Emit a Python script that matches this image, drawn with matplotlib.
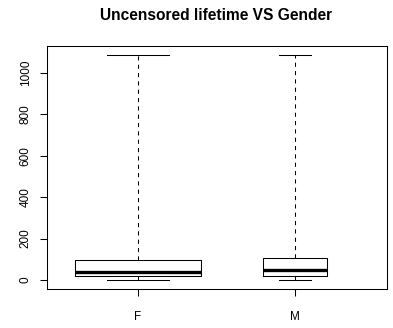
import matplotlib
matplotlib.use("Agg")
import matplotlib.pyplot as plt

plt.rcParams['font.family'] = ['Liberation Sans', 'DejaVu Sans']

# data
groups = ['F', 'M']
whisker_low = [2, 2]
q1 = [18, 18]
median = [39, 46]
q3 = [98, 105]
whisker_high = [1085, 1085]
box_widths = [0.80, 0.41]   # varwidth boxes

stats = []
for i, g in enumerate(groups):
    stats.append({'label': g, 'whislo': whisker_low[i], 'q1': q1[i], 'med': median[i],
                  'q3': q3[i], 'whishi': whisker_high[i]})

fig = plt.figure(figsize=(3.93, 3.28), dpi=100)
ax = fig.add_axes([47/393, 1 - 289/328, 340/393, 243/328])

ax.bxp(stats, positions=[1, 2], widths=box_widths,
       capwidths=[w / 2 for w in box_widths], showfliers=False,
       boxprops=dict(color='black', linewidth=0.75),
       medianprops=dict(color='black', linewidth=2.4, solid_capstyle='butt'),
       whiskerprops=dict(color='black', linewidth=0.75, linestyle=(0, (4, 4))),
       capprops=dict(color='black', linewidth=0.75))

ax.set_xlim(0.42, 2.585)
ax.set_ylim(-43.4, 1128.4)
ax.set_yticks([0, 200, 400, 600, 800, 1000])
ax.set_xticks([1, 2])
ax.set_xticklabels(groups)
for lab in ax.get_yticklabels():
    lab.set_rotation(90)
    lab.set_va('center')
ax.tick_params(axis='both', direction='out', length=5, width=0.75, labelsize=8.5, color='black')
ax.tick_params(axis='y', pad=6)
ax.tick_params(axis='x', pad=11)
for s in ax.spines.values():
    s.set_linewidth(0.75)
    s.set_color('black')

fig.text(216/393, 1 - 15/328, 'Uncensored lifetime VS Gender', ha='center', va='center',
         fontsize=11.2, fontweight='bold')

fig.savefig('out.png', dpi=100)
